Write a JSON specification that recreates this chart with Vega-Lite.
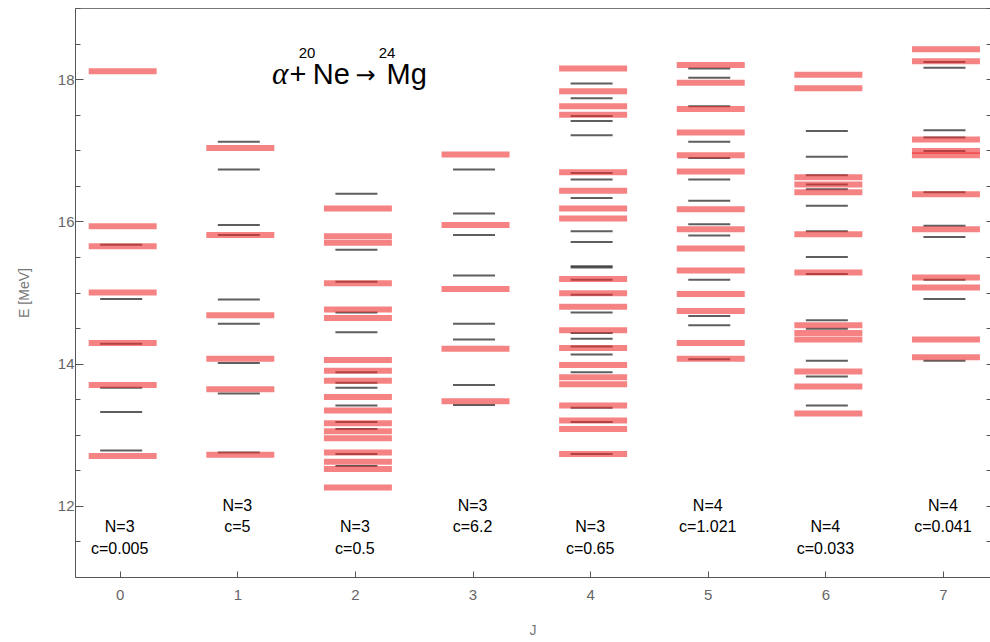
{
  "$schema": "https://vega.github.io/schema/vega-lite/v6.json",
  "width": 915,
  "height": 569,
  "autosize": {"type": "none"},
  "padding": {"left": 75, "top": 8, "right": 0, "bottom": 65},
  "background": "white",
  "config": {
    "view": {"stroke": null},
    "axis": {
      "grid": false,
      "domainColor": "#555",
      "tickColor": "#555",
      "labelColor": "#666",
      "labelFont": "Liberation Sans",
      "labelFontSize": 15,
      "titleFont": "Liberation Sans",
      "titleColor": "#777",
      "titleFontWeight": "normal"
    }
  },
  "datasets": {
    "black": [
      {"J": 0, "E": 15.67}, {"J": 0, "E": 14.91}, {"J": 0, "E": 14.28}, {"J": 0, "E": 13.66}, {"J": 0, "E": 13.32}, {"J": 0, "E": 12.78},
      {"J": 1, "E": 17.12}, {"J": 1, "E": 16.73}, {"J": 1, "E": 15.95}, {"J": 1, "E": 15.81}, {"J": 1, "E": 14.9}, {"J": 1, "E": 14.56}, {"J": 1, "E": 14.01}, {"J": 1, "E": 13.58}, {"J": 1, "E": 12.75},
      {"J": 2, "E": 16.39}, {"J": 2, "E": 15.6}, {"J": 2, "E": 15.15}, {"J": 2, "E": 14.72}, {"J": 2, "E": 14.44}, {"J": 2, "E": 13.88}, {"J": 2, "E": 13.73}, {"J": 2, "E": 13.66}, {"J": 2, "E": 13.41}, {"J": 2, "E": 13.18}, {"J": 2, "E": 13.08}, {"J": 2, "E": 12.73}, {"J": 2, "E": 12.56},
      {"J": 3, "E": 16.73}, {"J": 3, "E": 16.11}, {"J": 3, "E": 15.81}, {"J": 3, "E": 15.24}, {"J": 3, "E": 14.56}, {"J": 3, "E": 14.34}, {"J": 3, "E": 13.7}, {"J": 3, "E": 13.42},
      {"J": 4, "E": 17.94}, {"J": 4, "E": 17.73}, {"J": 4, "E": 17.48}, {"J": 4, "E": 17.41}, {"J": 4, "E": 17.21}, {"J": 4, "E": 16.68}, {"J": 4, "E": 16.59}, {"J": 4, "E": 16.33}, {"J": 4, "E": 15.86}, {"J": 4, "E": 15.71}, {"J": 4, "E": 15.37}, {"J": 4, "E": 15.35}, {"J": 4, "E": 15.18}, {"J": 4, "E": 14.97}, {"J": 4, "E": 14.72}, {"J": 4, "E": 14.43}, {"J": 4, "E": 14.35}, {"J": 4, "E": 14.24}, {"J": 4, "E": 14.13}, {"J": 4, "E": 13.88}, {"J": 4, "E": 13.38}, {"J": 4, "E": 13.18}, {"J": 4, "E": 12.73},
      {"J": 5, "E": 18.15}, {"J": 5, "E": 18.02}, {"J": 5, "E": 17.62}, {"J": 5, "E": 17.12}, {"J": 5, "E": 16.89}, {"J": 5, "E": 16.59}, {"J": 5, "E": 16.29}, {"J": 5, "E": 15.96}, {"J": 5, "E": 15.8}, {"J": 5, "E": 15.18}, {"J": 5, "E": 14.67}, {"J": 5, "E": 14.54}, {"J": 5, "E": 14.06},
      {"J": 6, "E": 17.27}, {"J": 6, "E": 16.91}, {"J": 6, "E": 16.65}, {"J": 6, "E": 16.52}, {"J": 6, "E": 16.45}, {"J": 6, "E": 16.22}, {"J": 6, "E": 15.86}, {"J": 6, "E": 15.5}, {"J": 6, "E": 15.26}, {"J": 6, "E": 14.61}, {"J": 6, "E": 14.49}, {"J": 6, "E": 14.04}, {"J": 6, "E": 13.82}, {"J": 6, "E": 13.41},
      {"J": 7, "E": 18.24}, {"J": 7, "E": 18.16}, {"J": 7, "E": 17.28}, {"J": 7, "E": 17.18}, {"J": 7, "E": 16.99}, {"J": 7, "E": 16.41}, {"J": 7, "E": 15.94}, {"J": 7, "E": 15.78}, {"J": 7, "E": 15.18}, {"J": 7, "E": 14.91}, {"J": 7, "E": 14.04}
    ],
    "red": [
      {"J": 0, "E": 18.11}, {"J": 0, "E": 15.93}, {"J": 0, "E": 15.65}, {"J": 0, "E": 15.0}, {"J": 0, "E": 14.29}, {"J": 0, "E": 13.7}, {"J": 0, "E": 12.7},
      {"J": 1, "E": 17.03}, {"J": 1, "E": 15.81}, {"J": 1, "E": 14.68}, {"J": 1, "E": 14.07}, {"J": 1, "E": 13.64}, {"J": 1, "E": 12.72},
      {"J": 2, "E": 16.18}, {"J": 2, "E": 15.79}, {"J": 2, "E": 15.7}, {"J": 2, "E": 15.13}, {"J": 2, "E": 14.76}, {"J": 2, "E": 14.64}, {"J": 2, "E": 14.05}, {"J": 2, "E": 13.9}, {"J": 2, "E": 13.76}, {"J": 2, "E": 13.53}, {"J": 2, "E": 13.34}, {"J": 2, "E": 13.16}, {"J": 2, "E": 13.05}, {"J": 2, "E": 12.95}, {"J": 2, "E": 12.75}, {"J": 2, "E": 12.62}, {"J": 2, "E": 12.52}, {"J": 2, "E": 12.26},
      {"J": 3, "E": 16.94}, {"J": 3, "E": 15.95}, {"J": 3, "E": 15.05}, {"J": 3, "E": 14.21}, {"J": 3, "E": 13.47},
      {"J": 4, "E": 18.15}, {"J": 4, "E": 17.83}, {"J": 4, "E": 17.62}, {"J": 4, "E": 17.5}, {"J": 4, "E": 16.69}, {"J": 4, "E": 16.43}, {"J": 4, "E": 16.18}, {"J": 4, "E": 16.04}, {"J": 4, "E": 15.19}, {"J": 4, "E": 14.99}, {"J": 4, "E": 14.8}, {"J": 4, "E": 14.47}, {"J": 4, "E": 14.22}, {"J": 4, "E": 13.98}, {"J": 4, "E": 13.81}, {"J": 4, "E": 13.71}, {"J": 4, "E": 13.41}, {"J": 4, "E": 13.2}, {"J": 4, "E": 13.08}, {"J": 4, "E": 12.73},
      {"J": 5, "E": 18.2}, {"J": 5, "E": 17.95}, {"J": 5, "E": 17.58}, {"J": 5, "E": 17.25}, {"J": 5, "E": 16.93}, {"J": 5, "E": 16.7}, {"J": 5, "E": 16.17}, {"J": 5, "E": 15.89}, {"J": 5, "E": 15.62}, {"J": 5, "E": 15.31}, {"J": 5, "E": 14.98}, {"J": 5, "E": 14.74}, {"J": 5, "E": 14.29}, {"J": 5, "E": 14.07},
      {"J": 6, "E": 18.06}, {"J": 6, "E": 17.87}, {"J": 6, "E": 16.62}, {"J": 6, "E": 16.52}, {"J": 6, "E": 16.41}, {"J": 6, "E": 15.82}, {"J": 6, "E": 15.28}, {"J": 6, "E": 14.54}, {"J": 6, "E": 14.43}, {"J": 6, "E": 14.34}, {"J": 6, "E": 13.89}, {"J": 6, "E": 13.68}, {"J": 6, "E": 13.3},
      {"J": 7, "E": 18.42}, {"J": 7, "E": 18.25}, {"J": 7, "E": 17.15}, {"J": 7, "E": 16.99}, {"J": 7, "E": 16.93}, {"J": 7, "E": 16.38}, {"J": 7, "E": 15.89}, {"J": 7, "E": 15.21}, {"J": 7, "E": 15.07}, {"J": 7, "E": 14.34}, {"J": 7, "E": 14.09}
    ],
    "labels": [
      {"J": 0, "E": 11.7, "text": "N=3"}, {"J": 0, "E": 11.39, "text": "c=0.005"},
      {"J": 1, "E": 12.0, "text": "N=3"}, {"J": 1, "E": 11.7, "text": "c=5"},
      {"J": 2, "E": 11.7, "text": "N=3"}, {"J": 2, "E": 11.39, "text": "c=0.5"},
      {"J": 3, "E": 12.0, "text": "N=3"}, {"J": 3, "E": 11.7, "text": "c=6.2"},
      {"J": 4, "E": 11.7, "text": "N=3"}, {"J": 4, "E": 11.39, "text": "c=0.65"},
      {"J": 5, "E": 12.0, "text": "N=4"}, {"J": 5, "E": 11.7, "text": "c=1.021"},
      {"J": 6, "E": 11.7, "text": "N=4"}, {"J": 6, "E": 11.39, "text": "c=0.033"},
      {"J": 7, "E": 12.0, "text": "N=4"}, {"J": 7, "E": 11.7, "text": "c=0.041"}
    ],
    "reaction": [
      {"J": 1.515, "E": 17.93, "text": "+"},
      {"J": 1.8, "E": 17.93, "text": "Ne"},
      {"J": 2.44, "E": 17.93, "text": "Mg"}
    ],
    "arrow": [
      {"J": 2.09, "E": 17.95, "text": "→"}
    ],
    "alpha": [
      {"J": 1.295, "E": 17.93, "text": "α"}
    ],
    "mass": [
      {"J": 1.593, "E": 18.37, "text": "20"},
      {"J": 2.273, "E": 18.37, "text": "24"}
    ]
  },
  "layer": [
    {
      "data": {"name": "black"},
      "mark": {"type": "tick", "orient": "horizontal", "size": 42, "thickness": 2, "color": "#1a1a1a", "xOffset": 1.5},
      "encoding": {
        "x": {
          "field": "J", "type": "quantitative",
          "scale": {"domain": [-0.38, 7.4], "nice": false, "zero": false},
          "axis": {"orient": "bottom", "values": [0, 1, 2, 3, 4, 5, 6, 7], "tickSize": -6, "labelPadding": 16, "title": "J", "titleFontSize": 14, "titlePadding": 21}
        },
        "y": {
          "field": "E", "type": "quantitative",
          "scale": {"domain": [11, 19], "nice": false, "zero": false},
          "axis": {
            "orient": "left",
            "values": [11, 11.5, 12, 12.5, 13, 13.5, 14, 14.5, 15, 15.5, 16, 16.5, 17, 17.5, 18, 18.5, 19],
            "labelExpr": "datum.value % 2 === 0 ? format(datum.value, 'd') : ''",
            "tickSize": {"condition": {"test": "datum.value % 2 === 0", "value": -8}, "value": -5},
            "labelPadding": 9,
            "title": "E [MeV]",
            "titleFontSize": 14,
            "titlePadding": 26
          }
        }
      }
    },
    {
      "data": {"name": "red"},
      "mark": {"type": "tick", "orient": "horizontal", "size": 68, "thickness": 6, "color": "#f03030", "opacity": 0.6, "xOffset": 3},
      "encoding": {
        "x": {"field": "J", "type": "quantitative", "axis": {"orient": "top", "ticks": false, "labels": false, "title": null, "domainColor": "#777"}},
        "y": {"field": "E", "type": "quantitative", "axis": {"orient": "right", "values": [11, 11.5, 12, 12.5, 13, 13.5, 14, 14.5, 15, 15.5, 16, 16.5, 17, 17.5, 18, 18.5, 19], "labels": false, "domain": false, "tickSize": -4, "title": null}}
      }
    },
    {
      "data": {"name": "labels"},
      "mark": {"type": "text", "font": "Liberation Sans", "fontSize": 16, "color": "black"},
      "encoding": {
        "x": {"field": "J", "type": "quantitative", "axis": null},
        "y": {"field": "E", "type": "quantitative", "axis": null},
        "text": {"field": "text"}
      }
    },
    {
      "data": {"name": "reaction"},
      "mark": {"type": "text", "font": "Liberation Sans", "fontSize": 29, "color": "black", "align": "center", "baseline": "alphabetic"},
      "encoding": {
        "x": {"field": "J", "type": "quantitative", "axis": null},
        "y": {"field": "E", "type": "quantitative", "axis": null},
        "text": {"field": "text"}
      }
    },
    {
      "data": {"name": "arrow"},
      "mark": {"type": "text", "font": "DejaVu Sans", "fontSize": 24, "color": "black", "align": "center", "baseline": "alphabetic"},
      "encoding": {
        "x": {"field": "J", "type": "quantitative", "axis": null},
        "y": {"field": "E", "type": "quantitative", "axis": null},
        "text": {"field": "text"}
      }
    },
    {
      "data": {"name": "alpha"},
      "mark": {"type": "text", "font": "Liberation Serif", "fontSize": 31, "fontStyle": "italic", "color": "black", "align": "left", "baseline": "alphabetic"},
      "encoding": {
        "x": {"field": "J", "type": "quantitative", "axis": null},
        "y": {"field": "E", "type": "quantitative", "axis": null},
        "text": {"field": "text"}
      }
    },
    {
      "data": {"name": "mass"},
      "mark": {"type": "text", "font": "Liberation Sans", "fontSize": 15, "color": "black"},
      "encoding": {
        "x": {"field": "J", "type": "quantitative", "axis": null},
        "y": {"field": "E", "type": "quantitative", "axis": null},
        "text": {"field": "text"}
      }
    }
  ],
  "resolve": {"axis": {"x": "independent", "y": "independent"}}
}
